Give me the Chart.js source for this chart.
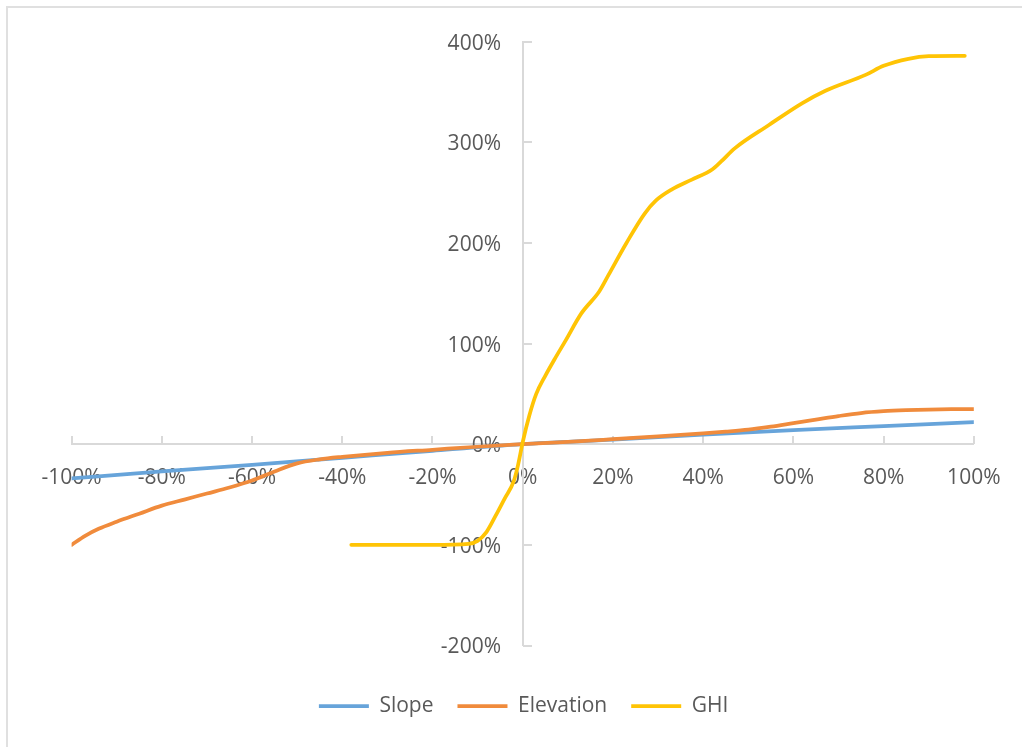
<!DOCTYPE html>
<html>
<head>
<meta charset="utf-8">
<script src="https://cdn.jsdelivr.net/npm/chart.js@4/dist/chart.umd.min.js"></script>
<style>
    html, body { margin: 0; padding: 0; background: #fff; }
    #wrap { position: relative; width: 1022px; height: 747px; overflow: hidden; }
    #frame {
        position: absolute; left: 6px; top: 6px; width: 1100px; height: 800px;
        border-top: 2px solid #e0e0e0; border-left: 2px solid #e0e0e0;
    }
    #chart { position: absolute; left: 0; top: 0; }
</style>
</head>
<body>
<div id="wrap">
    <div id="frame"></div>
    <canvas id="chart" width="1022" height="747"></canvas>
</div>
<script>
// Sensitivity curves: change in input (x, %) vs change in output (y, %)
const slopeX = [-100, -80, -60, -40, -20, 0, 20, 40, 60, 80, 100];
const slopeY = [-34, -27, -20.5, -13.5, -6.5, 0, 4.5, 9.5, 14, 18, 22];

const elevationX = [-100, -97, -94, -90, -85, -80, -75, -70, -65, -60, -55, -50, -45, -40, -30, -20, -10, 0,
    10, 20, 30, 40, 45, 50, 55, 60, 65, 70, 75, 80, 85, 90, 95, 100];
const elevationY = [-100, -91, -84, -77, -69, -61, -55, -49, -43, -36, -27, -19, -15, -12.5, -8.5, -5.5, -2.5, 0,
    2.3, 5, 7.8, 10.8, 12.5, 14.5, 17.5, 21, 24.5, 28, 31, 32.8, 33.8, 34.4, 34.8, 35];

const ghiX = [-38, -30, -20, -12, -10, -8, -6, -4, -2, -1, 0, 1.5, 3, 5, 7, 9.5, 13, 17, 19, 23, 27, 29.5,
    33, 37.5, 42, 44, 47, 54.5, 62, 67, 76, 80, 85.5, 90, 98];
const ghiY = [-100, -100, -100, -99, -96, -87, -71, -54, -37, -20, 2, 29, 50, 68, 84, 103, 130, 152, 168, 200, 229, 242,
    253, 263, 273, 281, 294, 317, 339, 351, 367, 376, 383, 385.6, 386];

const seriesNames = ['Slope', 'Elevation', 'GHI'];
const seriesColors = ['#67A4DA', '#F08B3C', '#FFC405'];

const xMin = -100, xMax = 100, xStep = 20;
const yMin = -200, yMax = 400, yStep = 100;

const axisColor = '#d9d9d9';
const textColor = '#595959';
const fontFamily = '"Open Sans", sans-serif';
const fontSize = 21;

function toPoints(xs, ys) {
    return xs.map((x, i) => ({ x: x, y: ys[i] }));
}

// Tick marks on the inner side of the crossing axes, plus the y labels
// (chart.js puts labels of an axis positioned at a value right on the line)
const crossAxes = {
    id: 'crossAxes',
    beforeDatasetsDraw(chart) {
        const { ctx, scales: { x, y } } = chart;
        const x0 = Math.round(x.getPixelForValue(0));
        const y0 = Math.round(y.getPixelForValue(0));
        ctx.save();
        ctx.strokeStyle = axisColor;
        ctx.lineWidth = 2;
        ctx.beginPath();
        x.ticks.forEach(t => {
            const px = Math.round(x.getPixelForValue(t.value));
            ctx.moveTo(px, y0);
            ctx.lineTo(px, y0 - 8);
        });
        y.ticks.forEach(t => {
            const py = Math.round(y.getPixelForValue(t.value));
            ctx.moveTo(x0, py);
            ctx.lineTo(x0 + 9, py);
        });
        ctx.stroke();

        ctx.fillStyle = textColor;
        ctx.font = fontSize + 'px ' + fontFamily;
        ctx.textAlign = 'right';
        ctx.textBaseline = 'middle';
        y.ticks.forEach(t => {
            ctx.fillText(t.value + '%', x0 - 22, y.getPixelForValue(t.value) + 2);
        });
        ctx.restore();
    }
};

const pointSets = [
    toPoints(slopeX, slopeY),
    toPoints(elevationX, elevationY),
    toPoints(ghiX, ghiY)
];

const datasets = seriesNames.map((name, i) => ({
    label: name,
    data: pointSets[i],
    borderColor: seriesColors[i],
    backgroundColor: seriesColors[i],
    borderWidth: 3.75,
    borderCapStyle: 'round',
    borderJoinStyle: 'round',
    pointRadius: 0,
    pointHoverRadius: 0,
    cubicInterpolationMode: 'monotone',
    fill: false,
    order: seriesNames.length - i
}));

Chart.defaults.font.family = fontFamily;
Chart.defaults.font.size = fontSize;
Chart.defaults.color = textColor;

new Chart(document.getElementById('chart'), {
    type: 'line',
    data: { datasets },
    plugins: [crossAxes],
    options: {
        responsive: false,
        animation: false,
        events: [],
        layout: {
            padding: { left: 71.6, right: 46.4, top: 41.7, bottom: 20.5 }
        },
        plugins: {
            tooltip: { enabled: false },
            legend: {
                position: 'bottom',
                // empty title only keeps the gap between plot and legend
                title: { display: true, text: '', font: { size: 10 }, padding: { top: 14, bottom: 0 } },
                labels: {
                    usePointStyle: true,
                    pointStyle: 'line',
                    pointStyleWidth: 50,
                    padding: 24,
                    color: textColor,
                    font: { size: fontSize },
                    sort: (a, b) => a.datasetIndex - b.datasetIndex
                }
            }
        },
        scales: {
            x: {
                type: 'linear',
                position: { y: 0 },
                min: xMin,
                max: xMax,
                grid: { display: false, drawTicks: false },
                border: { display: true, color: axisColor, width: 2 },
                ticks: {
                    stepSize: xStep,
                    autoSkip: false,
                    maxRotation: 0,
                    padding: 21.5,
                    color: textColor,
                    callback: v => v + '%'
                }
            },
            y: {
                type: 'linear',
                position: { x: 0 },
                min: yMin,
                max: yMax,
                afterFit(scale) { scale.width = 0; },
                grid: { display: false, drawTicks: false },
                border: { display: true, color: axisColor, width: 2 },
                ticks: {
                    display: false,
                    stepSize: yStep
                }
            }
        }
    }
});
</script>
</body>
</html>
